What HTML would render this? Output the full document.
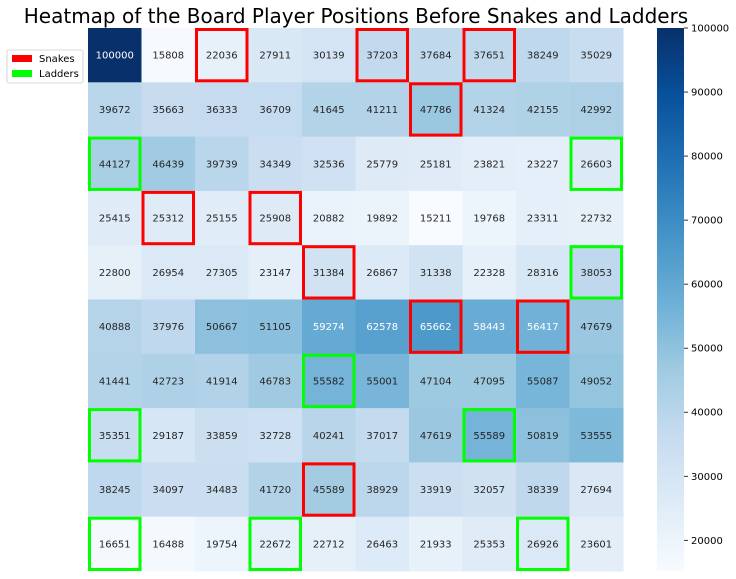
<!DOCTYPE html>
<html><head><meta charset="utf-8"><style>
body{margin:0;background:#fff;font-family:"DejaVu Sans","Liberation Sans",sans-serif;}
svg{display:block;font-family:"DejaVu Sans","Liberation Sans",sans-serif;}
</style></head><body>
<svg id="chart" width="736" height="579">
<text x="356" y="23" text-anchor="middle" font-size="20" fill="#000">Heatmap of the Board Player Positions Before Snakes and Ladders</text>
<g id="cells"></g>
<g id="boxes"></g>
<defs><linearGradient id="cbg" x1="0" y1="1" x2="0" y2="0">
<stop offset="0" stop-color="#f7fbff"/><stop offset="0.125" stop-color="#deebf7"/><stop offset="0.25" stop-color="#c6dbef"/><stop offset="0.375" stop-color="#9ecae1"/><stop offset="0.5" stop-color="#6baed6"/><stop offset="0.625" stop-color="#4292c6"/><stop offset="0.75" stop-color="#2171b5"/><stop offset="0.875" stop-color="#08519c"/><stop offset="1" stop-color="#08306b"/>
</linearGradient></defs>
<rect x="657" y="28" width="27" height="543" fill="url(#cbg)"/>
<g id="cbticks"></g>
<g>
<rect x="7" y="50" width="76" height="33" fill="#fff" stroke="#ccc" stroke-width="0.8" rx="2"/>
<g><rect x="12" y="55" width="20" height="7" fill="#ff0000"/><text x="39" y="62" font-size="10">Snakes</text></g>
<g><rect x="12" y="70" width="20" height="7" fill="#00ff00"/><text x="39" y="77" font-size="10">Ladders</text></g>
</g>
</svg>
<script>
const values=[
[100000,15808,22036,27911,30139,37203,37684,37651,38249,35029],
[39672,35663,36333,36709,41645,41211,47786,41324,42155,42992],
[44127,46439,39739,34349,32536,25779,25181,23821,23227,26603],
[25415,25312,25155,25908,20882,19892,15211,19768,23311,22732],
[22800,26954,27305,23147,31384,26867,31338,22328,28316,38053],
[40888,37976,50667,51105,59274,62578,65662,58443,56417,47679],
[41441,42723,41914,46783,55582,55001,47104,47095,55087,49052],
[35351,29187,33859,32728,40241,37017,47619,55589,50819,53555],
[38245,34097,34483,41720,45589,38929,33919,32057,38339,27694],
[16651,16488,19754,22672,22712,26463,21933,25353,26926,23601]];
const snakes=[[0,2],[0,5],[0,7],[1,6],[3,1],[3,3],[4,4],[5,6],[5,8],[8,4]];
const ladders=[[2,0],[2,9],[4,9],[6,4],[7,0],[7,7],[9,0],[9,3],[9,8]];
const cbTicks=[20000,30000,40000,50000,60000,70000,80000,90000,100000];
const X0=88,X1=623,Y0=28,Y1=571,NS="http://www.w3.org/2000/svg";
const flat=values.flat(),vmin=Math.min(...flat),vmax=Math.max(...flat);
const cw=(X1-X0)/10,ch=(Y1-Y0)/10;
const xs=c=>X0+c*cw, ys=r=>Y0+r*ch;
const stops=["#f7fbff","#deebf7","#c6dbef","#9ecae1","#6baed6","#4292c6","#2171b5","#08519c","#08306b"].map(h=>[1,3,5].map(i=>parseInt(h.substr(i,2),16)));
function color(v){let t=(v-vmin)/(vmax-vmin)*8;let i=Math.min(7,Math.floor(t)),f=t-i;const a=stops[i],b=stops[i+1];return`rgb(${a.map((x,k)=>Math.round(x+(b[k]-x)*f)).join(",")})`;}
const cells=document.getElementById('cells');
values.forEach((row,r)=>row.forEach((v,c)=>{
const g=document.createElementNS(NS,'g');


const rc=document.createElementNS(NS,'rect');
rc.setAttribute('x',xs(c));rc.setAttribute('y',ys(r));rc.setAttribute('width',cw+0.5);rc.setAttribute('height',ch+0.5);rc.setAttribute('fill',color(v));
const t=document.createElementNS(NS,'text');
t.setAttribute('x',xs(c)+cw/2);t.setAttribute('y',ys(r)+ch/2+3.5);t.setAttribute('text-anchor','middle');t.setAttribute('font-size','10');
t.setAttribute('fill',(v-vmin)/(vmax-vmin)>0.48?'#fff':'#262626');t.textContent=v;
g.appendChild(rc);g.appendChild(t);cells.appendChild(g);}));
const boxes=document.getElementById('boxes');
function box(list,col,name){list.forEach(([r,c])=>{const b=document.createElementNS(NS,'rect');


b.setAttribute('x',xs(c)+1.5);b.setAttribute('y',ys(r)+1.5);b.setAttribute('width',cw-3);b.setAttribute('height',ch-3);b.setAttribute('fill','none');b.setAttribute('stroke',col);b.setAttribute('stroke-width','3');boxes.appendChild(b);});}
box(snakes,'#ff0000','snake-box');box(ladders,'#00ff00','ladder-box');
const cb=document.getElementById('cbticks');
cbTicks.forEach(v=>{const y=Y1-(v-vmin)/(vmax-vmin)*(Y1-Y0);
const l=document.createElementNS(NS,'line');


l.setAttribute('x1',684);l.setAttribute('x2',688);l.setAttribute('y1',y);l.setAttribute('y2',y);l.setAttribute('stroke','#000');l.setAttribute('stroke-width','0.8');cb.appendChild(l);
const t=document.createElementNS(NS,'text');


t.setAttribute('x',691);t.setAttribute('y',y+3.5);t.setAttribute('font-size','10');t.textContent=v;cb.appendChild(t);});
</script>
</body></html>
